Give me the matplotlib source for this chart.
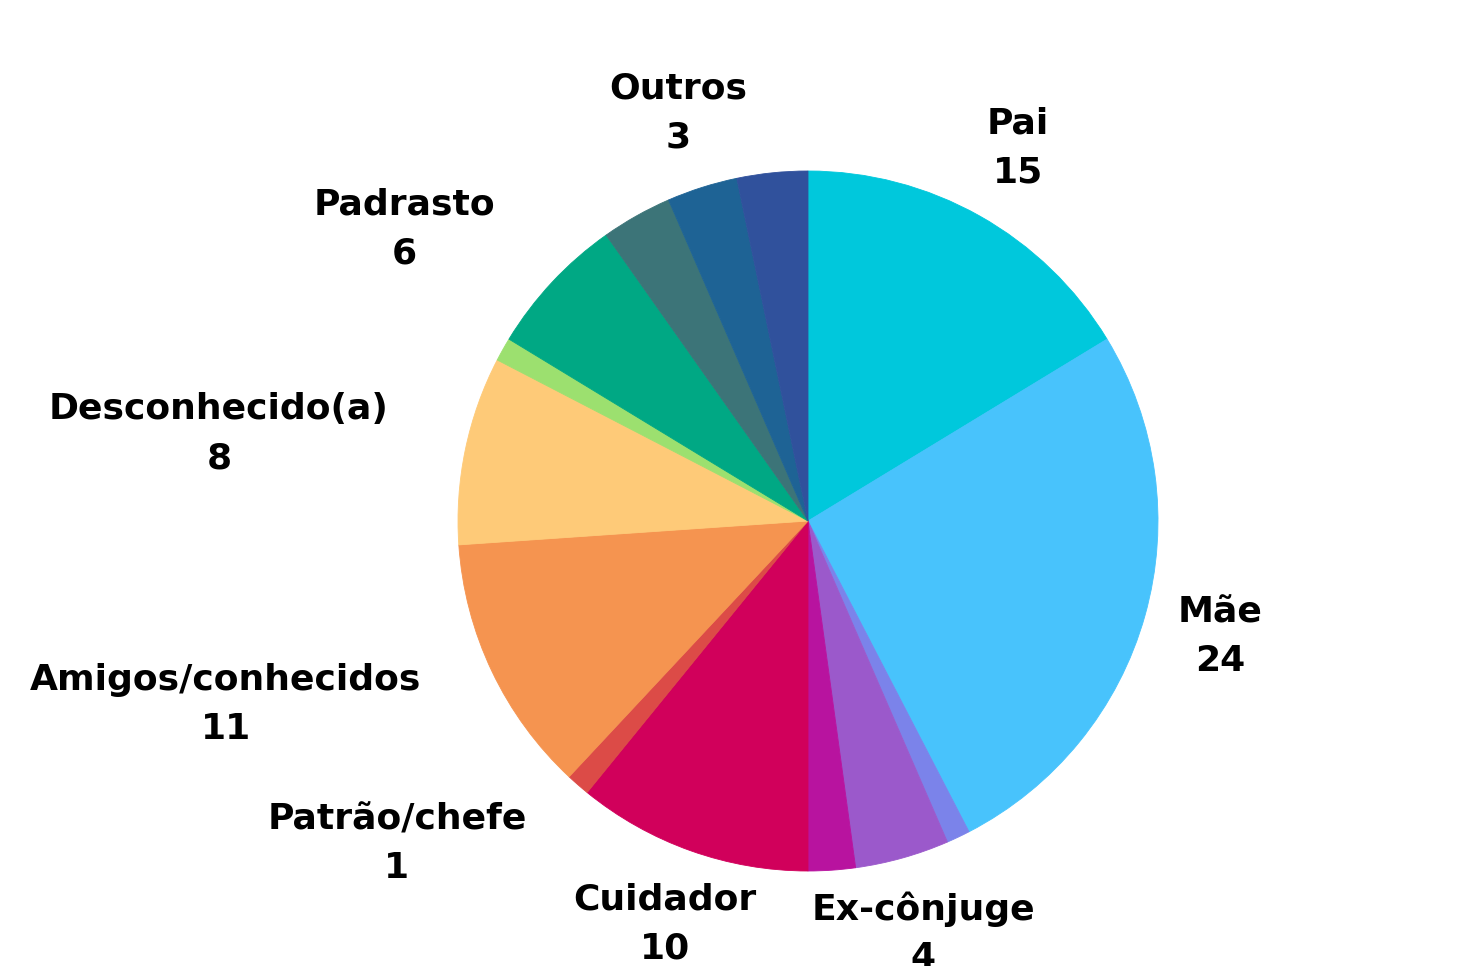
import numpy as np
import matplotlib.pyplot as plt

labels = ['Pai', 'Mãe', '', 'Ex-cônjuge', '', 'Cuidador', 'Patrão/chefe',
          'Amigos/conhecidos', 'Desconhecido(a)', '', 'Padrasto', '', 'Outros', '']
values = [15, 24, 1, 4, 2, 10, 1, 11, 8, 1, 6, 3, 3, 3]
colors = ['#00C8DC', '#48C3FC', '#7B83EA', '#9B59CB', '#B8139F', '#D1005B', '#DC4B47',
          '#F59450', '#FECA78', '#9CE06F', '#00A884', '#3C7478', '#1E6395', '#30519C']

fig = plt.figure(figsize=(14.84, 9.66), dpi=100)
ax = fig.add_axes([0, 0, 1, 1])
wedges, _ = ax.pie(values, colors=colors, startangle=90, counterclock=False,
                   radius=1, center=(0, 0), wedgeprops=dict(linewidth=0.6))
for w in wedges:
    w.set_edgecolor(w.get_facecolor())

total = sum(values)
cum = np.cumsum([0] + values)
for i, lab in enumerate(labels):
    if not lab:
        continue
    mid = (cum[i] + values[i] / 2) / total * 2 * np.pi
    x = 1.223 * np.sin(mid)
    y = 1.223 * np.cos(mid)
    ha = 'right' if x < -0.5 else 'center'
    ax.text(x, y, f'{lab}\n{values[i]}', ha=ha, va='center', multialignment='center',
            fontsize=26, fontweight='bold', family='DejaVu Sans', linespacing=1.55)

ax.set_xlim(-808 / 350, (1484 - 808) / 350)
ax.set_ylim(-445 / 350, 521 / 350)
ax.set_aspect('auto')
ax.axis('off')
fig.savefig('out.png', dpi=100)
